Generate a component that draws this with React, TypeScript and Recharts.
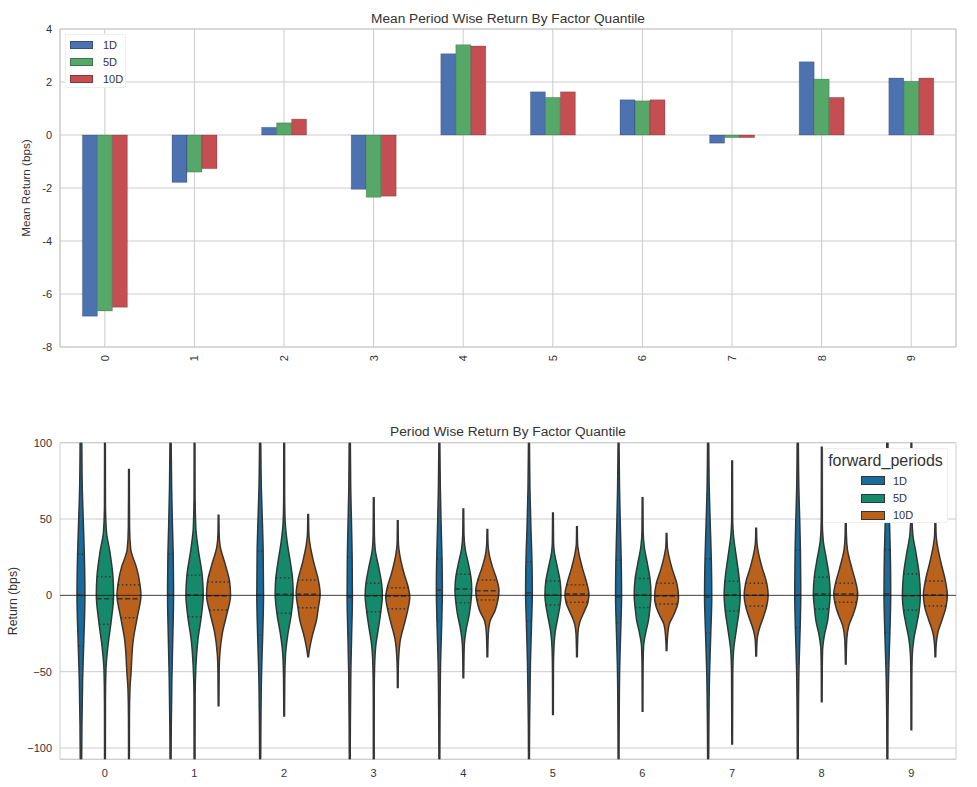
import React from 'react'
import {
  BarChart,
  ComposedChart,
  Bar,
  XAxis,
  YAxis,
  CartesianGrid,
  ReferenceArea,
  ReferenceLine,
  Legend,
  Curve
} from 'recharts'

const FONT = '"Liberation Sans", Arial, sans-serif'
const TEXT = '#333'
const GRID = '#cccccc'
const EDGE = '#353535'

const quantiles = ['0', '1', '2', '3', '4', '5', '6', '7', '8', '9']
const periods = ['1D', '5D', '10D']

// mean return per quantile (bps)
const mean1D = [-6.84, -1.79, 0.29, -2.05, 3.07, 1.63, 1.33, -0.31, 2.76, 2.15]
const mean5D = [-6.64, -1.4, 0.46, -2.35, 3.41, 1.42, 1.29, -0.1, 2.11, 2.03]
const mean10D = [-6.5, -1.27, 0.6, -2.31, 3.36, 1.63, 1.33, -0.1, 1.42, 2.15]
const barColors = ['#4C72B0', '#55A868', '#C44E52']
const meanTicks = [-8, -6, -4, -2, 0, 2, 4]

// violins: quartiles [q1, median, q3] and outline knots [value, relative width], top to bottom
type Violin = { quartiles: number[]; profile: number[][] }

const violins1D: Violin[] = [
  { quartiles: [-33, 0, 27], profile: [[140, 0.03], [100, 0.07], [70, 0.11], [47, 0.2], [27, 0.28], [0, 0.33], [-34, 0.22], [-55, 0.14], [-85, 0.08], [-140, 0.04]] },
  { quartiles: [-30, 0, 27], profile: [[140, 0.03], [100, 0.05], [70, 0.09], [45, 0.16], [27, 0.22], [0, 0.25], [-30, 0.18], [-55, 0.11], [-85, 0.06], [-140, 0.03]] },
  { quartiles: [-26, 0, 29], profile: [[140, 0.03], [100, 0.05], [70, 0.1], [47, 0.19], [29, 0.25], [0, 0.28], [-26, 0.21], [-50, 0.12], [-85, 0.06], [-140, 0.03]] },
  { quartiles: [-25, -1, 25], profile: [[140, 0.03], [100, 0.05], [70, 0.08], [45, 0.15], [25, 0.2], [-1, 0.22], [-25, 0.16], [-50, 0.09], [-85, 0.05], [-140, 0.03]] },
  { quartiles: [-17, 3.5, 24], profile: [[140, 0.03], [100, 0.04], [70, 0.08], [45, 0.15], [24, 0.22], [3.5, 0.25], [-17, 0.2], [-45, 0.1], [-85, 0.05], [-140, 0.03]] },
  { quartiles: [-17, 1.7, 22], profile: [[140, 0.03], [100, 0.04], [70, 0.08], [45, 0.16], [22, 0.25], [1.7, 0.28], [-17, 0.22], [-45, 0.12], [-85, 0.05], [-140, 0.03]] },
  { quartiles: [-18, -1, 23], profile: [[140, 0.03], [100, 0.04], [70, 0.08], [45, 0.15], [23, 0.22], [-1, 0.25], [-18, 0.2], [-45, 0.1], [-85, 0.05], [-140, 0.03]] },
  { quartiles: [-24.5, -1, 24], profile: [[140, 0.03], [100, 0.05], [70, 0.09], [45, 0.18], [24, 0.26], [-1, 0.3], [-24.5, 0.22], [-50, 0.12], [-85, 0.06], [-140, 0.03]] },
  { quartiles: [-21, 0, 29.7], profile: [[140, 0.03], [100, 0.05], [70, 0.09], [47, 0.17], [29.7, 0.22], [0, 0.25], [-21, 0.2], [-48, 0.1], [-85, 0.05], [-140, 0.03]] },
  { quartiles: [-24.5, 1, 29.7], profile: [[140, 0.03], [100, 0.05], [70, 0.09], [47, 0.18], [29.7, 0.24], [1, 0.28], [-24.5, 0.21], [-50, 0.11], [-85, 0.05], [-140, 0.03]] }
]

const violins5D: Violin[] = [
  { quartiles: [-19, -2.2, 12.2], profile: [[140, 0.03], [60, 0.04], [42, 0.12], [28, 0.42], [12, 0.67], [0, 0.72], [-18, 0.5], [-33, 0.25], [-49, 0.08], [-70, 0.04], [-140, 0.03]] },
  { quartiles: [-14, 0.2, 13.1], profile: [[140, 0.03], [70, 0.04], [45, 0.1], [30, 0.31], [13, 0.64], [0, 0.72], [-14, 0.56], [-29, 0.28], [-47, 0.11], [-65, 0.05], [-140, 0.03]] },
  { quartiles: [-11.8, 0.8, 11.5], profile: [[140, 0.03], [65, 0.04], [49, 0.08], [35, 0.25], [20, 0.55], [11, 0.7], [1, 0.75], [-12, 0.6], [-27, 0.28], [-38, 0.12], [-55, 0.05], [-79, 0.03]] },
  { quartiles: [-10.7, -0.4, 7.9], profile: [[64, 0.03], [40, 0.05], [30, 0.12], [18, 0.42], [8, 0.65], [0, 0.72], [-10, 0.6], [-20, 0.42], [-33, 0.17], [-47, 0.07], [-65, 0.04], [-140, 0.03]] },
  { quartiles: [-4.8, 4.1, 13.8], profile: [[56.6, 0.03], [40, 0.05], [30, 0.16], [20, 0.44], [12, 0.63], [4, 0.7], [-5, 0.62], [-12, 0.5], [-23, 0.22], [-34, 0.07], [-54, 0.03]] },
  { quartiles: [-6.3, 0.2, 9.4], profile: [[54, 0.03], [35, 0.05], [28, 0.12], [18, 0.38], [9, 0.6], [0, 0.67], [-6, 0.6], [-14, 0.42], [-25, 0.17], [-36, 0.07], [-50, 0.04], [-78, 0.03]] },
  { quartiles: [-7.9, 0.2, 11.1], profile: [[64, 0.03], [42, 0.05], [32, 0.14], [20, 0.42], [11, 0.62], [0, 0.7], [-8, 0.62], [-16, 0.5], [-25, 0.25], [-34, 0.08], [-50, 0.04], [-76, 0.03]] },
  { quartiles: [-10.3, 0.4, 9.2], profile: [[88, 0.03], [50, 0.04], [40, 0.1], [25, 0.35], [10, 0.6], [0, 0.67], [-10, 0.58], [-22, 0.36], [-36, 0.12], [-50, 0.05], [-97.4, 0.03]] },
  { quartiles: [-9, 0.9, 11.8], profile: [[97, 0.03], [50, 0.04], [36, 0.12], [24, 0.38], [12, 0.62], [1, 0.7], [-9, 0.6], [-16, 0.5], [-27, 0.2], [-36, 0.07], [-50, 0.04], [-69.7, 0.03]] },
  { quartiles: [-9.6, -0.2, 14], profile: [[140, 0.03], [55, 0.04], [40, 0.12], [28, 0.38], [14, 0.65], [0, 0.75], [-10, 0.65], [-20, 0.42], [-29, 0.2], [-40, 0.07], [-55, 0.04], [-88, 0.03]] }
]

const violins10D: Violin[] = [
  { quartiles: [-14.6, -2.2, 7], profile: [[82.5, 0.03], [45, 0.05], [30, 0.15], [26, 0.28], [19, 0.6], [7, 0.92], [0, 1], [-14, 0.7], [-29, 0.36], [-51, 0.17], [-62, 0.08], [-80, 0.04], [-140, 0.03]] },
  { quartiles: [-9.6, -0.2, 8.7], profile: [[52.4, 0.03], [40, 0.05], [32, 0.14], [21, 0.53], [9, 0.92], [0, 1], [-12, 0.7], [-25, 0.31], [-38, 0.11], [-50, 0.05], [-72.3, 0.03]] },
  { quartiles: [-8.1, 0.8, 10], profile: [[53, 0.03], [40, 0.06], [34, 0.14], [22, 0.45], [10, 0.85], [1, 1], [-8, 0.85], [-16, 0.7], [-27, 0.33], [-36, 0.1], [-40.2, 0.03]] },
  { quartiles: [-8.7, -0.4, 5], profile: [[48.9, 0.03], [35, 0.05], [25, 0.2], [15, 0.5], [5, 0.88], [-1, 1], [-9, 0.85], [-16, 0.64], [-29, 0.22], [-40, 0.08], [-50, 0.04], [-60.3, 0.03]] },
  { quartiles: [-3, 3, 10], profile: [[43.2, 0.03], [33, 0.06], [27, 0.15], [18, 0.45], [10, 0.8], [3, 0.97], [-3, 0.88], [-10, 0.64], [-17, 0.22], [-25, 0.08], [-40.2, 0.03]] },
  { quartiles: [-4.6, 0.9, 7], profile: [[45, 0.03], [34, 0.05], [28, 0.15], [18, 0.45], [7, 0.85], [1, 1], [-5, 0.9], [-10, 0.64], [-18, 0.22], [-25, 0.08], [-40.2, 0.03]] },
  { quartiles: [-5.7, -0.4, 7.9], profile: [[40.6, 0.03], [32, 0.06], [27, 0.16], [17, 0.48], [8, 0.85], [-1, 1], [-6, 0.92], [-12, 0.64], [-19, 0.22], [-27, 0.08], [-36.2, 0.03]] },
  { quartiles: [-7, 0, 7.9], profile: [[43.9, 0.03], [35, 0.06], [30, 0.14], [18, 0.5], [8, 0.88], [0, 1], [-7, 0.88], [-14, 0.61], [-23, 0.22], [-29, 0.08], [-39.7, 0.03]] },
  { quartiles: [-4.6, 0.9, 7.9], profile: [[55, 0.03], [40, 0.05], [30, 0.14], [18, 0.5], [8, 0.85], [1, 1], [-5, 0.9], [-12, 0.64], [-20, 0.25], [-29, 0.08], [-45, 0.03]] },
  { quartiles: [-7, 0.2, 9.4], profile: [[55, 0.03], [40, 0.06], [34, 0.14], [22, 0.45], [9, 0.85], [0, 1], [-7, 0.9], [-16, 0.56], [-24, 0.22], [-31, 0.08], [-40.2, 0.03]] }
]
const violinColors = ['#166c9c', '#148a6a', '#ba611b']
const returnTicks = [-100, -50, 0, 50, 100]

const barData = quantiles.map((q, i) => ({
  q,
  '1D': mean1D[i],
  '5D': mean5D[i],
  '10D': mean10D[i]
}))

const extent = (v: Violin) => [v.profile[v.profile.length - 1][0], v.profile[0][0]]

const violinData = quantiles.map((q, i) => ({
  q,
  '1D': extent(violins1D[i]),
  '5D': extent(violins5D[i]),
  '10D': extent(violins10D[i])
}))

// relative width of the outline at a value, for the quartile lines
const widthAt = (profile: number[][], val: number) => {
  for (let i = 0; i < profile.length - 1; i++) {
    const [v0, w0] = profile[i]
    const [v1, w1] = profile[i + 1]
    if (val <= v0 && val >= v1) return w0 + ((w1 - w0) * (v0 - val)) / (v0 - v1)
  }
  return 0
}

const violinShape = (set: Violin[], fill: string) => (props: any) => {
  const {x, y, width, height, index} = props
  const v = set[index]
  const [lo, hi] = extent(v)
  const toY = (val: number) => y + ((hi - val) / (hi - lo)) * height
  const cx = x + width / 2
  const right = v.profile.map(([val, w]) => ({x: cx + (w * width) / 2, y: toY(val)}))
  const left = v.profile.map(([val, w]) => ({x: cx - (w * width) / 2, y: toY(val)}))
  return (
    <g>
      <Curve
        type="monotone"
        layout="vertical"
        points={right}
        baseLine={left}
        fill={fill}
        stroke={EDGE}
        strokeWidth={1.5}
      />
      {v.quartiles.map((qv, k) => {
        const hw = (widthAt(v.profile, qv) * width) / 2
        return (
          <line
            key={k}
            x1={cx - hw}
            x2={cx + hw}
            y1={toY(qv)}
            y2={toY(qv)}
            stroke={EDGE}
            strokeWidth={1.5}
            strokeDasharray={k === 1 ? '5 2.5' : '1.5 2.5'}
          />
        )
      })}
    </g>
  )
}

const RotatedTick = (props: any) => {
  const {x, y, payload} = props
  return (
    <text
      x={x}
      y={y}
      transform={`rotate(-90, ${x}, ${y})`}
      textAnchor="end"
      dominantBaseline="central"
      fontSize={11}
      fill={TEXT}
      fontFamily={FONT}
    >
      {payload.value}
    </text>
  )
}

const TopLegend = () => (
  <div
    style={{
      width: 61,
      height: 54,
      background: '#fff',
      border: '1px solid #eeeeee',
      borderRadius: 2,
      paddingTop: 1,
      boxSizing: 'border-box',
      fontFamily: FONT,
      fontSize: 11,
      color: TEXT
    }}
  >
    {periods.map((p, i) => (
      <div key={p} style={{display: 'flex', alignItems: 'center', height: 17.3}}>
        <span
          style={{
            display: 'inline-block',
            marginLeft: 4,
            width: 23,
            height: 8,
            background: barColors[i],
            border: '0.5px solid rgba(0,0,0,0.3)',
            boxSizing: 'border-box'
          }}
        />
        <span style={{marginLeft: 10}}>{p}</span>
      </div>
    ))}
  </div>
)

const BottomLegend = () => (
  <div
    style={{
      width: 125,
      height: 75,
      background: '#fff',
      border: '1px solid #eeeeee',
      borderRadius: 2,
      boxSizing: 'border-box',
      fontFamily: FONT,
      color: TEXT
    }}
  >
    <div style={{fontSize: 16, height: 22, lineHeight: '22px', paddingTop: 1, textAlign: 'center'}}>
      forward_periods
    </div>
    {periods.map((p, i) => (
      <div key={p} style={{display: 'flex', alignItems: 'center', height: 17.35, fontSize: 11}}>
        <span
          style={{
            display: 'inline-block',
            marginLeft: 37,
            width: 24,
            height: 9,
            background: violinColors[i],
            border: `1px solid ${EDGE}`,
            boxSizing: 'border-box'
          }}
        />
        <span style={{marginLeft: 8}}>{p}</span>
      </div>
    ))}
  </div>
)

const titleStyle = (top: number): React.CSSProperties => ({
  position: 'absolute',
  left: 60,
  width: 896,
  top,
  textAlign: 'center',
  fontFamily: FONT,
  fontSize: 13.7,
  lineHeight: '16px',
  color: TEXT
})

const tickStyle = {fontSize: 11, fill: TEXT, fontFamily: FONT}

export default function App() {
  return (
    <div style={{position: 'absolute', left: 0, top: 0, width: 977, height: 787, background: '#fff'}}>
      <div style={titleStyle(10.5)}>Mean Period Wise Return By Factor Quantile</div>
      <div style={{position: 'absolute', left: 0, top: 0}}>
        <BarChart
          width={977}
          height={390}
          data={barData}
          margin={{top: 29, right: 21, left: 0, bottom: 13}}
          barCategoryGap="25%"
          barGap={0}
        >
          <CartesianGrid stroke={GRID} />
          <ReferenceArea y1={-8} y2={4} fill="none" stroke={GRID} strokeWidth={1} />
          <XAxis dataKey="q" height={30} axisLine={false} tickLine={false} tick={<RotatedTick />} interval={0} />
          <YAxis
            width={60}
            domain={[-8, 4]}
            ticks={meanTicks}
            axisLine={false}
            tickLine={false}
            tick={tickStyle}
            label={{value: 'Mean Return (bps)', angle: -90, position: 'center', dx: -4, fontSize: 11.7, fill: TEXT, fontFamily: FONT}}
          />
          <Legend
            layout="horizontal"
            verticalAlign="middle"
            align="center"
            wrapperStyle={{left: 65, top: 34, width: 61, height: 54}}
            content={() => <TopLegend />}
          />
          {periods.map((p, i) => (
            <Bar
              key={p}
              dataKey={p}
              fill={barColors[i]}
              stroke="rgba(0,0,0,0.3)"
              strokeWidth={0.6}
              isAnimationActive={false}
            />
          ))}
        </BarChart>
      </div>

      <div style={titleStyle(424)}>Period Wise Return By Factor Quantile</div>
      <div style={{position: 'absolute', left: 0, top: 400}}>
        <ComposedChart
          width={977}
          height={387}
          data={violinData}
          margin={{top: 42.7, right: 21, left: 0, bottom: 3.7}}
          barCategoryGap="10%"
          barGap={0}
        >
          <CartesianGrid stroke={GRID} vertical={false} />
          <ReferenceArea y1={-107.4} y2={100} fill="none" stroke={GRID} strokeWidth={1} />
          <XAxis dataKey="q" height={24} axisLine={false} tickLine={false} tick={tickStyle} tickMargin={4} />
          <YAxis
            width={60}
            domain={[-107.4, 100]}
            allowDataOverflow
            ticks={returnTicks}
            tickFormatter={(v: number) => (v < 0 ? '\u2212' + Math.abs(v) : String(v))}
            axisLine={false}
            tickLine={false}
            tick={tickStyle}
            label={{value: 'Return (bps)', angle: -90, position: 'center', dx: -17, fontSize: 12.3, fill: TEXT, fontFamily: FONT}}
          />
          {periods.map((p, i) => (
            <Bar
              key={p}
              dataKey={p}
              fill={violinColors[i]}
              isAnimationActive={false}
              shape={violinShape([violins1D, violins5D, violins10D][i], violinColors[i])}
            />
          ))}
          <ReferenceLine y={0} stroke="#000" strokeOpacity={0.65} strokeWidth={1} />
          <Legend
            layout="horizontal"
            verticalAlign="middle"
            align="center"
            wrapperStyle={{left: 823, top: 48, width: 125, height: 75}}
            content={() => <BottomLegend />}
          />
        </ComposedChart>
      </div>
    </div>
  )
}
